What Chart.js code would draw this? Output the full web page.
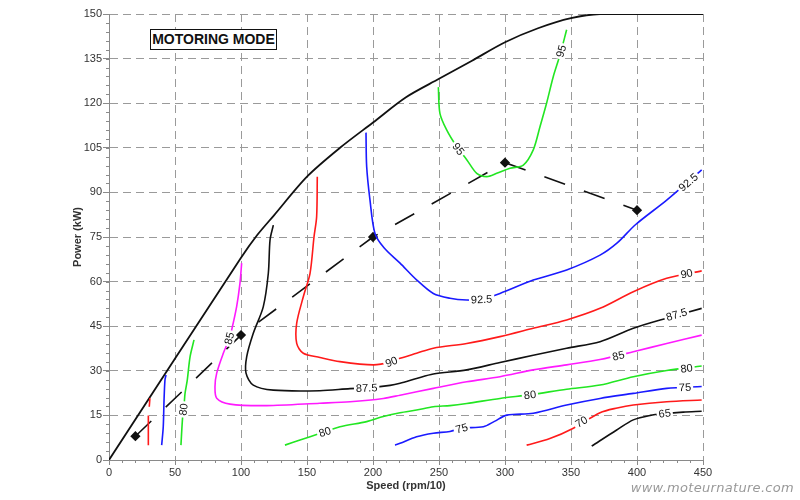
<!DOCTYPE html>
<html><head><meta charset="utf-8">
<script src="https://cdn.jsdelivr.net/npm/chart.js@4/dist/chart.umd.min.js"></script>
<style>
html,body{margin:0;padding:0;background:#fff;}
#wrap{position:relative;width:800px;height:500px;overflow:hidden;}
#mode{position:absolute;left:150px;top:29px;width:125px;height:19px;border:1.5px solid #111;font:bold 14px "Liberation Sans",Arial,sans-serif;text-align:center;line-height:19px;color:#111;background:#fff;}
#wm{position:absolute;right:6px;top:480px;font:italic 13px "DejaVu Sans",sans-serif;color:#999;letter-spacing:0.3px;}
</style></head>
<body><div id="wrap"><canvas id="c" width="800" height="500"></canvas>
<div id="mode">MOTORING MODE</div><div id="wm">www.moteurnature.com</div></div>
<script>
// ---- axis settings ----
const speedRange = [0, 450], speedStep = 50, speedMinorStep = 10;
const powerRange = [0, 150], powerStep = 15, powerMinorStep = 3;

// ---- max power envelope (speed, kW) ----
const envelope = [[0,0],[100,68],[112,75.5],[125,82.3],[150,95.3],[175,105],[200,113.5],[225,122],[250,128.2],[275,134.3],[300,140.5],[325,145.2],[350,148.6],[372,150],[450,150]];
// ---- optimal operating line ----
const optimal = [[20,8],[100,42],[200,75],[300,100],[400,84]];

// ---- efficiency contours (speed, kW); null = gap ----
const eff65 = [[365.7,4.7],[384.6,10.1],[397.2,13.5],[410,15],[421,15.6],[435,16.1],[449,16.4]];
const eff70a = [[29.8,5],[29.8,15],null,[30.5,17.9],[31,20.8]];
const eff70b = [[316.4,5],[334,7.2],[351.8,10.7],[372,15.9],[385,17.5],[397.2,18.5],[422.5,19.6],[449,20.2]];
const eff75a = [[39.9,5],[41.1,11.2],[41.7,20.2],[42.4,26.9],[43.2,28.6]];
const eff75b = [[216.7,5],[220.5,5.6],[233,7.8],[245.7,9],[258.3,9.6],[267,10.7],[283.6,11.2],[292,13],[301.3,15.1],[321.4,15.7],[346.7,18.5],[372,20.7],[397.2,22.4],[422.5,24.1],[449,24.7]];
const eff80a = [[54.5,5],[55.8,14.6],[56.8,18],[57.6,22.4],[59.3,26.9],[61.4,34.7],[64.4,40.4]];
const eff80b = [[133.3,5],[144.7,6.7],[160,9],[175,11.2],[195.2,12.9],[207.8,14.6],[220.5,15.9],[233,16.8],[245.7,17.9],[258.3,18.3],[271,19],[296.2,20.7],[320,22],[346.7,23.8],[372,25.2],[397.2,28],[422.5,30.1],[449,31.6]];
const eff85 = [[100.5,66.2],[99.2,59.4],[96.7,51.6],[92.9,43.7],[91.2,40.9],[86.6,35.9],[81.6,29.2],[80.3,24.7],[81.6,20.8],[91.7,18.8],[119.5,18.3],[159.8,19.1],[182.6,19.6],[207.8,20.7],[220.5,21.8],[245.7,24.1],[271,26.3],[296.2,28],[321.4,30.3],[346.7,32],[372,33.8],[397.2,36.4],[422.5,39.2],[449,42]];
const eff875 = [[124.5,79],[122,74],[120.7,62.8],[116.9,51.6],[109.3,42.6],[104.3,34.7],[103.8,29.2],[109.3,25.2],[124.5,23.5],[159.8,23.3],[182.6,24],[195,24.2],[212.9,25.1],[220.5,25.8],[233,27.4],[245.7,28.9],[271,30.3],[296.2,32.8],[321.4,35.2],[346.7,37.6],[372,39.8],[397.2,44.3],[422.5,47.7],[449,51]];
const eff90 = [[157.8,95.3],[157.3,81.8],[155.3,75],[152.3,62.8],[147.2,54.9],[142.2,46],[142.2,39.2],[147.2,35.9],[159.8,34.5],[175,33.1],[200.3,32],[214,33],[220.5,34.2],[233,35.9],[245.7,37.6],[271,39.2],[296.2,41.5],[321.4,44.3],[346.7,47.1],[372,51],[397.2,56.6],[422.5,61.1],[449,63.6]];
const eff925 = [[194.7,110.1],[195.2,98.7],[197.7,87.5],[201.5,76.2],[208.5,71.3],[220.5,66.2],[233,60.6],[245.7,56],[258.3,54.4],[271,53.8],[282,54],[296.2,56],[321.4,60.5],[346.7,63.9],[372,68.9],[385,73],[399,79.2],[422.5,87.4],[449,97.6]];
const eff95 = [[249.5,125.4],[250.7,116.6],[255.8,111],[263.4,105.4],[271,101],[278.6,96.4],[286.2,95.3],[293.7,96.4],[303.8,98.1],[313.9,99.2],[321.4,104.3],[326.5,112.1],[331.5,120],[336.6,129],[341.7,136.3],[346.7,144.7]];

// ---- contour labels: text, series, speed, kW ----
const contourLabels = [
  ['95','eff95',264.6,104.6],['95','eff95',342.6,137.5],
  ['92.5','eff925',282.3,54],['92.5','eff925',438.9,93.4],
  ['90','eff90',214,33],['90','eff90',437.6,62.6],
  ['87.5','eff875',195.2,24.2],['87.5','eff875',430,48.9],
  ['85','eff85',91.2,40.9],['85','eff85',385.9,35],
  ['80','eff80a',56.5,17],['80','eff80b',163.6,9.4],['80','eff80b',318.9,21.9],['80','eff80b',437.6,30.8],
  ['75','eff75b',267.2,10.6],['75','eff75b',436.4,24.4],
  ['70','eff70b',358,12.8],
  ['65','eff65',421,15.6]
];

const contourDefs = [
  ['eff65', eff65, '#111111'],
  ['eff70a', eff70a, '#ff1a1a'], ['eff70b', eff70b, '#ff1a1a'],
  ['eff75a', eff75a, '#1a1aff'], ['eff75b', eff75b, '#1a1aff'],
  ['eff80a', eff80a, '#22e622'], ['eff80b', eff80b, '#22e622'],
  ['eff85', eff85, '#ff1aff'],
  ['eff875', eff875, '#111111'],
  ['eff90', eff90, '#ff1a1a'],
  ['eff925', eff925, '#1a1aff'],
  ['eff95', eff95, '#22e622']
];

const toPts = arr => arr.map(p => p ? {x: p[0], y: p[1]} : {x: null, y: null});

const datasets = contourDefs.map(([key, arr, col]) => ({
  key, data: toPts(arr), borderColor: col, borderWidth: 1.6, pointRadius: 0,
  showLine: true, tension: 0.3, spanGaps: false, fill: false
}));
datasets.push({
  key: 'envelope', data: toPts(envelope), borderColor: '#111', borderWidth: 1.8,
  pointRadius: 0, showLine: true, tension: 0.3, fill: false
});
datasets.push({
  key: 'optimal', data: toPts(optimal), borderColor: '#111', borderWidth: 1.6,
  borderDash: [22, 20], pointRadius: 4, pointStyle: 'rectRot',
  pointBackgroundColor: '#111', pointBorderColor: '#111', showLine: true, tension: 0, fill: false
});

const FONT = '"Liberation Sans", Arial, sans-serif';

const minorTicks = {
  id: 'minorTicks',
  afterDraw(chart) {
    const {ctx, scales: {x, y}} = chart;
    ctx.save();
    ctx.strokeStyle = '#8a8a8a'; ctx.lineWidth = 1;
    ctx.beginPath();
    for (let v = speedRange[0]; v <= speedRange[1]; v += speedMinorStep) {
      const px = Math.round(x.getPixelForValue(v)) + 0.5;
      ctx.moveTo(px, y.bottom); ctx.lineTo(px, y.bottom + 3);
    }
    for (let v = powerRange[0]; v <= powerRange[1]; v += powerMinorStep) {
      const py = Math.round(y.getPixelForValue(v)) + 0.5;
      ctx.moveTo(x.left - 3, py); ctx.lineTo(x.left, py);
    }
    ctx.stroke();
    ctx.restore();
  }
};

const labelPlugin = {
  id: 'contourLabels',
  afterDatasetsDraw(chart) {
    const {ctx, scales: {x, y}} = chart;
    ctx.font = '11px ' + FONT;
    ctx.textAlign = 'center'; ctx.textBaseline = 'middle';
    contourLabels.forEach(([txt, key, vx, vy]) => {
      const di = chart.data.datasets.findIndex(d => d.key === key);
      const pts = chart.getDatasetMeta(di).data;
      const px = x.getPixelForValue(vx), py = y.getPixelForValue(vy);
      let best = Infinity, ang = 0;
      for (let i = 0; i < pts.length - 1; i++) {
        const a = pts[i], b = pts[i + 1];
        if (!isFinite(a.x) || !isFinite(a.y) || !isFinite(b.x) || !isFinite(b.y)) continue;
        const d = ((a.x + b.x) / 2 - px) ** 2 + ((a.y + b.y) / 2 - py) ** 2;
        if (d < best) { best = d; ang = Math.atan2(b.y - a.y, b.x - a.x); }
      }
      if (ang > Math.PI / 2) ang -= Math.PI;
      if (ang < -Math.PI / 2) ang += Math.PI;
      ctx.save();
      ctx.translate(px, py); ctx.rotate(ang);
      const w = ctx.measureText(txt).width + 4;
      ctx.fillStyle = '#fff'; ctx.fillRect(-w / 2, -5.5, w, 11);
      ctx.fillStyle = '#111'; ctx.fillText(txt, 0, 0.5);
      ctx.restore();
    });
  }
};

new Chart(document.getElementById('c'), {
  type: 'scatter',
  data: { datasets },
  plugins: [minorTicks, labelPlugin],
  options: {
    responsive: false, animation: false, devicePixelRatio: 1,
    layout: { padding: { left: 0, right: 97, top: 14, bottom: 0 } },
    plugins: { legend: { display: false }, tooltip: { enabled: false } },
    scales: {
      x: {
        type: 'linear', min: speedRange[0], max: speedRange[1],
        afterFit: s => { s.height = 40; },
        ticks: { stepSize: speedStep, color: '#333', font: { family: FONT, size: 11 }, padding: 1, maxRotation: 0 },
        grid: { color: '#9a9a9a', lineWidth: 1, tickLength: 5, tickColor: '#8a8a8a' },
        border: { display: true, color: '#8a8a8a', width: 1, dash: [8, 5] },
        title: { display: true, text: 'Speed (rpm/10)', color: '#333', font: { family: FONT, size: 11, weight: 'bold' }, padding: { top: 0, bottom: 7 } }
      },
      y: {
        type: 'linear', min: powerRange[0], max: powerRange[1],
        afterFit: s => { s.width = 109; },
        ticks: { stepSize: powerStep, color: '#333', font: { family: FONT, size: 11 }, padding: 1 },
        grid: { color: '#9a9a9a', lineWidth: 1, tickLength: 6, tickColor: '#8a8a8a' },
        border: { display: true, color: '#8a8a8a', width: 1, dash: [8, 5] },
        title: { display: true, text: 'Power (kW)', color: '#333', font: { family: FONT, size: 11, weight: 'bold' }, padding: { top: 71, bottom: 0 } }
      }
    }
  }
});
</script>
</body></html>
